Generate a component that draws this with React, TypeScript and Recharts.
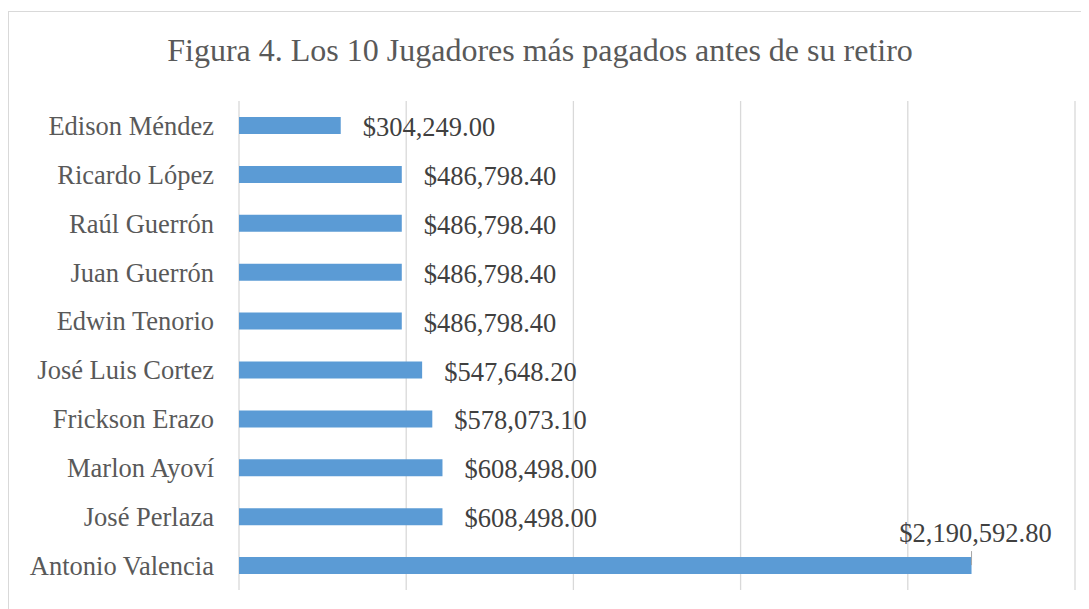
import React from "react";
import { BarChart, Bar, XAxis, YAxis, CartesianGrid, LabelList } from "recharts";

const players = [
  "Edison Méndez",
  "Ricardo López",
  "Raúl Guerrón",
  "Juan Guerrón",
  "Edwin Tenorio",
  "José Luis Cortez",
  "Frickson Erazo",
  "Marlon Ayoví",
  "José Perlaza",
  "Antonio Valencia",
];
const salaries = [
  304249.0, 486798.4, 486798.4, 486798.4, 486798.4, 547648.2, 578073.1, 608498.0, 608498.0, 2190592.8,
];
const xTicks = [0, 500000, 1000000, 1500000, 2000000, 2500000];
const title = "Figura 4. Los 10 Jugadores más pagados antes de su retiro";

const data = players.map((name, i) => ({ name, value: salaries[i] }));

const FONT = "'Liberation Serif', 'Times New Roman', serif";
const W = 1081;
const H = 601;
const MARGIN = { top: 93, right: 14, bottom: 19, left: 0 };
const PLOT_RIGHT = W - MARGIN.right;

const fmt = (v: number) =>
  "$" + v.toLocaleString("en-US", { minimumFractionDigits: 2, maximumFractionDigits: 2 });

const ValueLabel = (props: any) => {
  const { x, y, width, height, value } = props;
  const end = Number(x) + Number(width);
  const cy = Number(y) + Number(height) / 2;
  const text = fmt(Number(value));
  if (end + 180 > PLOT_RIGHT) {
    return (
      <g>
        <line x1={end} x2={end} y1={Number(y) - 6} y2={Number(y) + 8} stroke="#A6A6A6" strokeWidth={1} />
        <text
          x={end + 4}
          y={Number(y) - 15}
          textAnchor="middle"
          fill="#404040"
          fontSize={26.5}
          fontFamily={FONT}
        >
          {text}
        </text>
      </g>
    );
  }
  return (
    <text
      x={end + 22}
      y={cy + 1.5}
      dominantBaseline="central"
      fill="#404040"
      fontSize={26.5}
      fontFamily={FONT}
    >
      {text}
    </text>
  );
};

export default function App() {
  return (
    <div style={{ position: "relative", width: W, height: H, background: "#fff" }}>
      <div
        style={{
          position: "absolute",
          top: 3,
          left: 0,
          right: -20,
          bottom: -20,
          borderTop: "1px solid #D9D9D9",
          borderLeft: "1px solid #D9D9D9",
          pointerEvents: "none",
        }}
      />
      <svg
        width={W}
        height={80}
        style={{ position: "absolute", top: 0, left: 0, pointerEvents: "none" }}
      >
        <text x={532} y={53} textAnchor="middle" fill="#595959" fontSize={32} fontFamily={FONT}>
          {title}
        </text>
      </svg>
      <BarChart width={W} height={H} data={data} layout="vertical" margin={MARGIN}>
        <CartesianGrid horizontal={false} vertical={true} stroke="#D9D9D9" strokeWidth={1.3} />
        <XAxis type="number" domain={[0, 2500000]} ticks={xTicks} hide />
        <YAxis
          type="category"
          dataKey="name"
          width={231}
          axisLine={false}
          tickLine={false}
          tickSize={0}
          tickMargin={25}
          interval={0}
          tick={{ fill: "#595959", fontSize: 26.5, fontFamily: FONT }}
        />
        <Bar dataKey="value" fill="#5B9BD5" barSize={17} isAnimationActive={false}>
          <LabelList dataKey="value" content={<ValueLabel />} />
        </Bar>
      </BarChart>
    </div>
  );
}
